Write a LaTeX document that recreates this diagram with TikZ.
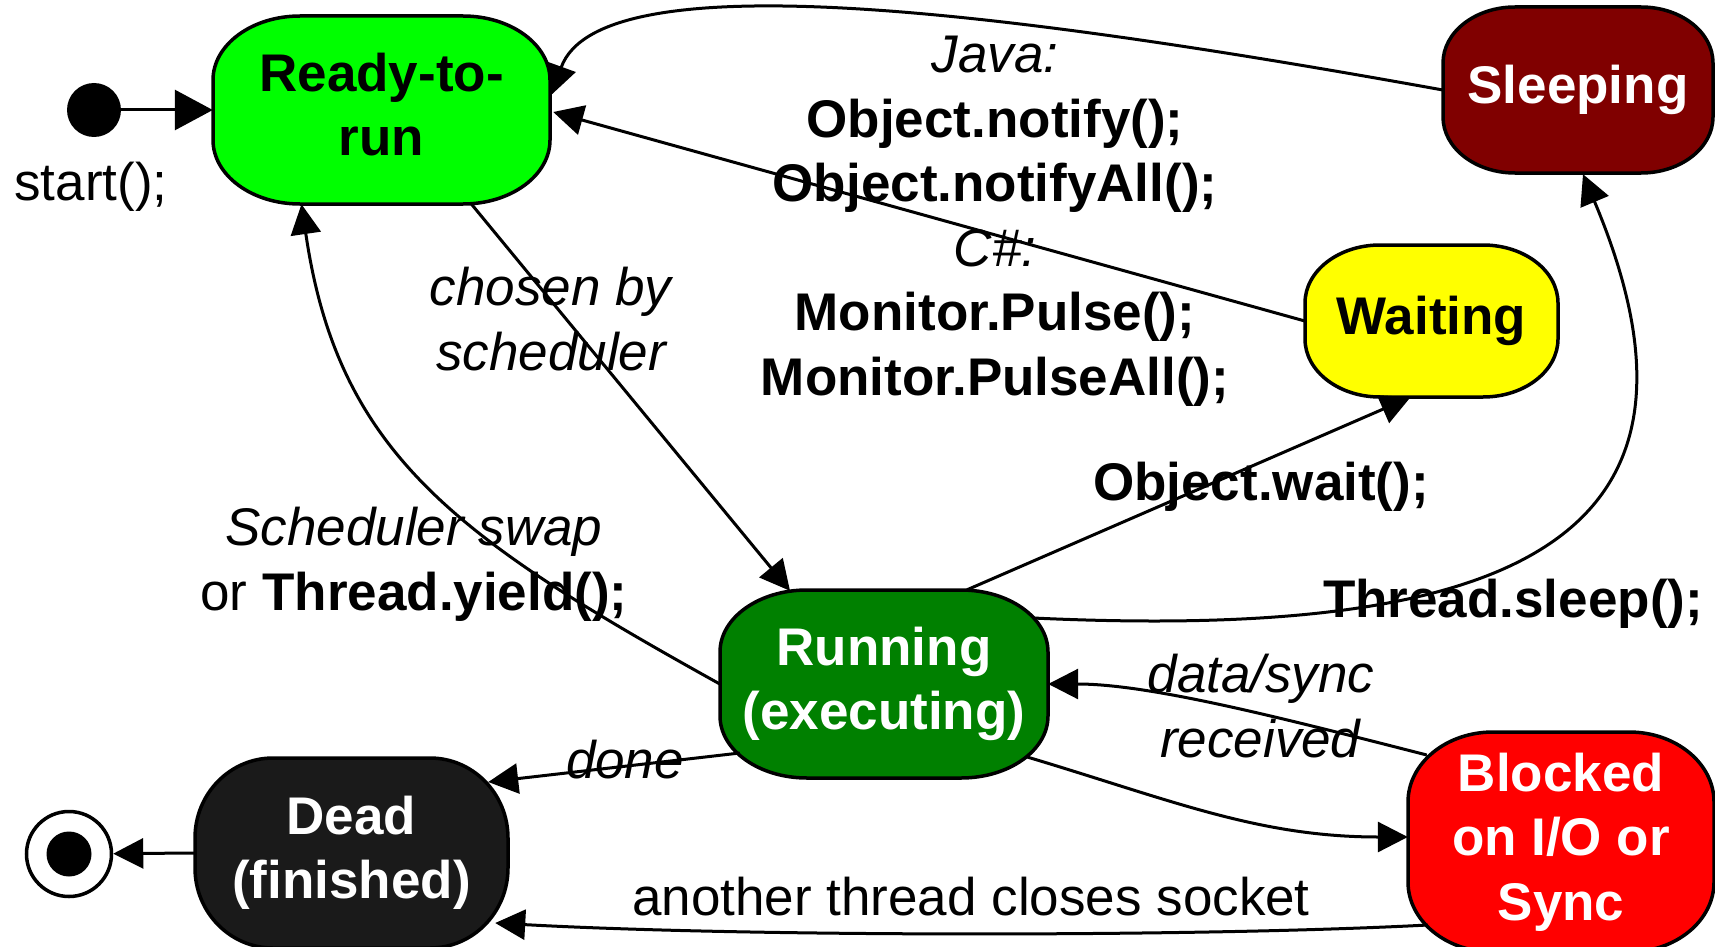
\documentclass[tikz,border=0pt]{standalone}
\usepackage{fontspec}
\setmainfont{Liberation Sans}
\usetikzlibrary{arrows.meta,calc}

\newcommand\diagfont{\fontsize{53pt}{64.5pt}\selectfont}

\definecolor{readygreen}{HTML}{00FF00}
\definecolor{sleepred}{HTML}{800000}
\definecolor{waityellow}{HTML}{FFFF00}
\definecolor{rungreen}{HTML}{008000}
\definecolor{deadgray}{HTML}{1A1A1A}
\definecolor{blockred}{HTML}{FF0000}

% State outline: rectangle with elliptical corners.
% #1 cx, #2 cy (measured downwards), #3 width, #4 height, #5 x radius, #6 y radius, #7 fill
\newcommand\stateshape[7]{%
  \filldraw[stateborder, fill=#7]
    ({#1+#3/2-#5},{-#2+#4/2}) arc[start angle=90,end angle=0,x radius=#5pt,y radius=#6pt]
    -- ({#1+#3/2},{-#2-#4/2+#6}) arc[start angle=0,end angle=-90,x radius=#5pt,y radius=#6pt]
    -- ({#1-#3/2+#5},{-#2-#4/2}) arc[start angle=-90,end angle=-180,x radius=#5pt,y radius=#6pt]
    -- ({#1-#3/2},{-#2+#4/2-#6}) arc[start angle=180,end angle=90,x radius=#5pt,y radius=#6pt]
    -- cycle;}

\tikzset{
  stateborder/.style={draw=black, line width=3.5pt},
  statetext/.style={rectangle, inner sep=0pt, align=center, font=\diagfont\bfseries},
  lbl/.style={inner sep=0pt, align=center, font=\diagfont, anchor=base},
  edge/.style={line width=3pt, -{Triangle[length=30pt,width=30pt]}},
}

\begin{document}
\begin{tikzpicture}[x=1pt,y=1pt]
\useasboundingbox (0,0) rectangle (1715,-947);

% state outlines
\stateshape{381.5}{110}{337}{188}{87}{64}{readygreen}
\stateshape{1578}{90}{270}{166}{72}{56}{sleepred}
\stateshape{1431.5}{321}{253}{152}{75}{58}{waityellow}
\stateshape{884}{684}{328}{188}{87}{62}{rungreen}
\stateshape{351.5}{853}{313}{190}{78}{80}{deadgray}
\stateshape{1561}{842}{306}{220}{85}{70}{blockred}

% states
\node[statetext, minimum width=337pt, minimum height=188pt, text=black] (ready) at (381.5,-110) {Ready-to-\\run\vphantom{()}};
\node[statetext, minimum width=270pt, minimum height=166pt, text=white] (sleeping) at (1578,-90) {Sleeping};
\node[statetext, minimum width=253pt, minimum height=152pt, text=black] (waiting) at (1431.5,-321) {Waiting};
\node[statetext, minimum width=328pt, minimum height=188pt, text=white] (running) at (884,-684) {Running\\(executing)};
\node[statetext, minimum width=313pt, minimum height=190pt, text=white] (dead) at (351.5,-853) {Dead\\(finished)};
\node[statetext, minimum width=306pt, minimum height=220pt, text=white] (blocked) at (1561,-842) {Blocked\\on I/O or\\Sync};

% pseudo states
\node[circle, fill=black, minimum size=54pt, inner sep=0pt] (start) at (94,-110) {};
\node[circle, draw=black, line width=3.5pt, minimum size=85pt, inner sep=0pt] (fin) at (69,-854) {};
\fill (fin.center) circle[radius=22.5pt];

% transition labels (multi-line labels sit on their last baseline)
\node[lbl] (startlbl) at (91,-200) {start();};
\node[lbl] (notifylbl) at (995,-395) {\textit{Java:}\\\textbf{Object.notify();}\\\textbf{Object.notifyAll();}\\\textit{C\#:}\\\textbf{Monitor.Pulse();}\\\textbf{Monitor.PulseAll();}};
\node[lbl] (chosenlbl) at (552,-370) {\textit{chosen by}\\\textit{scheduler}};
\node[lbl] (swaplbl) at (414,-610) {\textit{Scheduler swap}\\or \textbf{Thread.yield();}};
\node[lbl] (waitlbl) at (1261,-500) {\textbf{Object.wait();}};
\node[lbl] (sleeplbl) at (1513,-617) {\textbf{Thread.sleep();}};
\node[lbl] (datalbl) at (1261,-757) {\textit{data/sync}\\\textit{received}};
\node[lbl] (donelbl) at (625,-778) {\textit{done}};
\node[lbl] (socketlbl) at (971,-915) {another thread closes socket};

% transitions
\draw[line width=3pt, -{Triangle[length=38pt,width=40pt]}] (start) -- (ready.west);
\draw[edge] (sleeping.west) .. controls (1000,-10) and (600,40) .. ($(ready.east)+(1,15)$);
\draw[edge] (waiting.west) -- ($(ready.east)+(3,-2)$);
\draw[edge] ($(ready.south)+(90,0)$) -- ($(running.north)+(-94,-1)$);
\draw[edge] (running.west) .. controls (457,-538) and (338,-454) .. ($(ready.south)+(-80,0)$);
\draw[edge] ($(running.north)+(83,0)$) -- ($(waiting.south)+(-21,0)$);
\draw[edge] ($(running.east)+(-15,66)$) .. controls (1505,-640) and (1739,-545) .. ($(sleeping.south)+(5,-1)$);
\draw[edge] ($(blocked.west)+(19,87)$) .. controls (1282,-718) and (1150,-684) .. (running.east);
\draw[edge] ($(running.east)+(-21,-73)$) .. controls (1171,-800) and (1258,-837) .. ($(blocked.west)+(0,5)$);
\draw[edge] ($(running.west)+(20,-69)$) -- ($(dead.east)+(-20,71)$);
\draw[edge] ($(blocked.west)+(20,-83)$) .. controls (1200,-937) and (750,-937) .. ($(dead.east)+(-13,-70)$);
\draw[edge] (dead.west) -- (fin);
\end{tikzpicture}
\end{document}
